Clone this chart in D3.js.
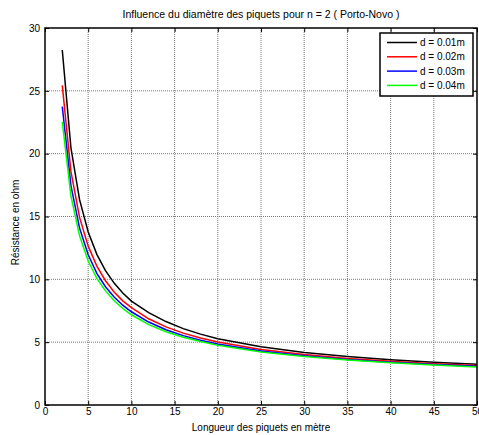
<!DOCTYPE html>
<html>
<head>
<meta charset="utf-8">
<script src="https://d3js.org/d3.v7.min.js"></script>
<style>
  body { margin: 0; background: #fff; }
  svg text { font-family: "Liberation Sans", Arial, Helvetica, sans-serif; }
</style>
</head>
<body>
<div id="chart1"></div>
<script>
// longueur des piquets (m)
var longueurs = [2, 3, 4, 5, 6, 7, 8, 9, 10, 12, 14, 16, 18, 20, 25, 30, 35, 40, 45, 50];

// résistance (ohm), une série par diamètre
var r_d001 = [28.25, 20.47, 16.34, 13.77, 11.99, 10.69, 9.70, 8.91, 8.27, 7.35, 6.64, 6.08, 5.64, 5.28, 4.63, 4.17, 3.85, 3.60, 3.41, 3.25];
var r_d002 = [25.44, 18.59, 14.93, 12.64, 11.05, 9.89, 8.99, 8.29, 7.75, 6.86, 6.22, 5.72, 5.33, 5.01, 4.42, 4.01, 3.71, 3.48, 3.29, 3.15];
var r_d003 = [23.74, 17.46, 14.08, 11.95, 10.48, 9.41, 8.60, 7.94, 7.42, 6.60, 5.99, 5.52, 5.16, 4.86, 4.30, 3.91, 3.63, 3.40, 3.23, 3.08];
var r_d004 = [22.53, 16.64, 13.47, 11.46, 10.08, 9.08, 8.30, 7.68, 7.18, 6.40, 5.83, 5.39, 5.05, 4.76, 4.22, 3.85, 3.58, 3.36, 3.18, 3.03];

var noms = ["d = 0.01m", "d = 0.02m", "d = 0.03m", "d = 0.04m"];
var couleurs = ["#000000", "#ff0000", "#0000ff", "#00ff00"];

var xTicks = [0, 5, 10, 15, 20, 25, 30, 35, 40, 45, 50];
var yTicks = [0, 5, 10, 15, 20, 25, 30];

var series = [r_d001, r_d002, r_d003, r_d004];

var margin = {top: 28, right: 2, bottom: 30, left: 45},
    width = 479 - margin.left - margin.right,
    height = 435 - margin.top - margin.bottom;

var svg = d3.select("#chart1")
  .append("svg")
    .attr("width", 479)
    .attr("height", 435);

var g = svg.append("g")
    .attr("transform", "translate(" + margin.left + "," + margin.top + ")");

var x = d3.scaleLinear().domain([0, 50]).range([0, width]);
var y = d3.scaleLinear().domain([0, 30]).range([height, 0]);

// grille pointillée
g.selectAll(".gx")
  .data(xTicks.slice(1, -1))
  .enter()
  .append("line")
    .attr("x1", function(d) { return x(d); })
    .attr("x2", function(d) { return x(d); })
    .attr("y1", 0)
    .attr("y2", height)
    .attr("stroke", "#7a7a7a")
    .attr("stroke-dasharray", "1,1")
    .attr("stroke-width", 1);

g.selectAll(".gy")
  .data(yTicks.slice(1, -1))
  .enter()
  .append("line")
    .attr("x1", 0)
    .attr("x2", width)
    .attr("y1", function(d) { return y(d); })
    .attr("y2", function(d) { return y(d); })
    .attr("stroke", "#7a7a7a")
    .attr("stroke-dasharray", "1,1")
    .attr("stroke-width", 1);

// courbes
var line = d3.line()
    .x(function(d, i) { return x(longueurs[i]); })
    .y(function(d) { return y(d); });

g.selectAll(".courbe")
  .data(series)
  .enter()
  .append("path")
    .attr("d", line)
    .attr("fill", "none")
    .attr("stroke", function(d, i) { return couleurs[i]; })
    .attr("stroke-width", 1.5);

// axes (ticks vers l'intérieur, boîte complète)
var tickLen = 4;
g.append("g")
    .attr("transform", "translate(0," + height + ")")
    .call(d3.axisBottom(x).tickValues(xTicks).tickSize(-tickLen).tickPadding(3))
    .call(function(a) { a.select(".domain").remove(); });
g.append("g")
    .call(d3.axisTop(x).tickValues(xTicks).tickSize(-tickLen).tickFormat(""))
    .call(function(a) { a.select(".domain").remove(); });
g.append("g")
    .call(d3.axisLeft(y).tickValues(yTicks).tickSize(-tickLen).tickPadding(5))
    .call(function(a) { a.select(".domain").remove(); });
g.append("g")
    .attr("transform", "translate(" + width + ",0)")
    .call(d3.axisRight(y).tickValues(yTicks).tickSize(-tickLen).tickFormat(""))
    .call(function(a) { a.select(".domain").remove(); });

g.selectAll(".tick text")
    .attr("font-size", "10px")
    .attr("fill", "#000");

g.append("rect")
    .attr("x", 0)
    .attr("y", 0)
    .attr("width", width)
    .attr("height", height)
    .attr("fill", "none")
    .attr("stroke", "#000")
    .attr("stroke-width", 1.5);

// titre et libellés
svg.append("text")
    .attr("x", margin.left + width / 2)
    .attr("y", 18)
    .attr("text-anchor", "middle")
    .attr("font-size", "10.5px")
    .text("Influence du diamètre des piquets pour n = 2 ( Porto-Novo )");

svg.append("text")
    .attr("x", margin.left + width / 2)
    .attr("y", 431)
    .attr("text-anchor", "middle")
    .attr("font-size", "10px")
    .text("Longueur des piquets en mètre");

svg.append("text")
    .attr("transform", "translate(19," + (margin.top + height / 2 + 6) + ") rotate(-90)")
    .attr("text-anchor", "middle")
    .attr("font-size", "10px")
    .text("Résistance en ohm");

// légende
var leg = svg.append("g").attr("transform", "translate(380,33)");
leg.append("rect")
    .attr("width", 93)
    .attr("height", 63)
    .attr("fill", "#fff")
    .attr("stroke", "#000")
    .attr("stroke-width", 1.5);
var items = leg.selectAll(".item")
  .data(noms)
  .enter()
  .append("g")
    .attr("transform", function(d, i) { return "translate(0," + (9.5 + i * 14.3) + ")"; });
items.append("line")
    .attr("x1", 7)
    .attr("x2", 37)
    .attr("stroke", function(d, i) { return couleurs[i]; })
    .attr("stroke-width", 1.5);
items.append("text")
    .attr("x", 40)
    .attr("dy", "0.35em")
    .attr("font-size", "10px")
    .text(function(d) { return d; });
</script>
</body>
</html>
